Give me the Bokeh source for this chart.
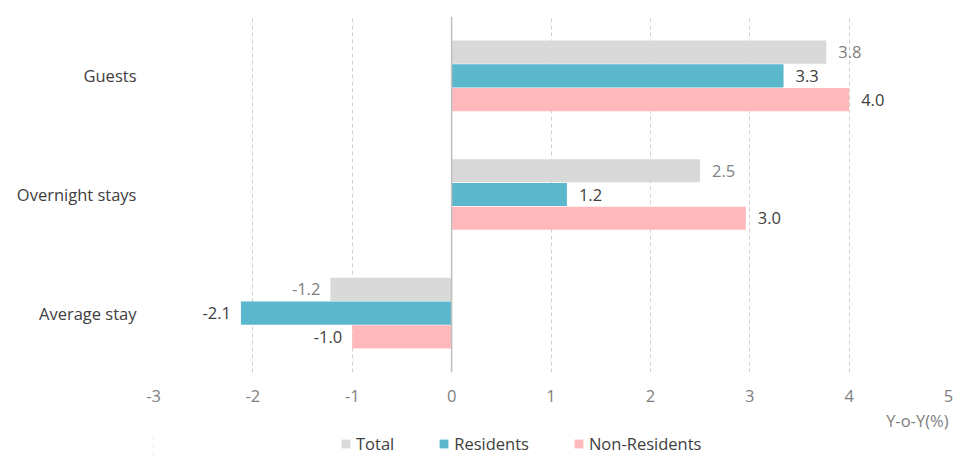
from bokeh.plotting import figure
from bokeh.layouts import column
from bokeh.models import ColumnDataSource, FactorRange, Range1d, Span, Legend, LegendItem, FixedTicker, Title
from bokeh.transform import dodge
from bokeh.core.properties import value
from bokeh.embed import file_html
from bokeh.resources import INLINE

categories = ["Guests", "Overnight stays", "Average stay"]
total = [3.77, 2.5, -1.22]
residents = [3.34, 1.16, -2.12]
non_residents = [4.0, 2.96, -1.0]
series_names = ["Total", "Residents", "Non-Residents"]
x_ticks = [-3, -2, -1, 0, 1, 2, 3, 4, 5]
x_tick_labels = ["-3", "-2", "-1", "0", "1", "2", "3", "4", "5"]
x_title = "Y-o-Y(%)"

colors = ["#d9d9d9", "#5bb7cc", "#ffb9bc"]
label_colors = ["#808080", "#404040", "#404040"]
offsets = [0.2, 0.0, -0.2]
FONT = "Open Sans"
FS = "16.5px"

p = figure(width=958, height=433,
           y_range=FactorRange(factors=list(reversed(categories))),
           x_range=Range1d(-3, 5),
           output_backend="svg", toolbar_location=None,
           min_border_left=153, min_border_right=10, min_border_top=16, min_border_bottom=0)
p.outline_line_color = None

p.ygrid.grid_line_color = None
p.xgrid.grid_line_color = "#d0d0d0"
p.xgrid.grid_line_dash = "4 3"
p.xaxis.ticker = FixedTicker(ticks=x_ticks)
p.xaxis.major_label_overrides = {t: s for t, s in zip(x_ticks, x_tick_labels)}

p.xaxis.axis_line_color = None
p.xaxis.major_tick_line_color = None
p.xaxis.minor_tick_line_color = None
p.xaxis.major_tick_out = 0
p.xaxis.major_label_standoff = 17
p.xaxis.major_label_text_color = "#808080"
p.xaxis.major_label_text_font = FONT
p.xaxis.major_label_text_font_size = FS

p.yaxis.axis_line_color = None
p.yaxis.major_tick_line_color = None
p.yaxis.minor_tick_line_color = None
p.yaxis.major_tick_out = 0
p.yaxis.major_label_standoff = 17
p.yaxis.major_label_text_color = "#404040"
p.yaxis.major_label_text_font = FONT
p.yaxis.major_label_text_font_size = FS

p.add_layout(Span(location=0, dimension="height", line_color="#bfbfbf", line_width=1.5))

# legend strip below the chart (its bars lie outside its own x range, only legend shows)
lg = figure(width=958, height=24,
            y_range=FactorRange(factors=list(reversed(categories))),
            x_range=Range1d(100.2, 100.8),
            output_backend="svg", toolbar_location=None,
            x_axis_location=None, y_axis_location=None,
            min_border_left=153, min_border_right=10, min_border_top=0, min_border_bottom=0)
lg.outline_line_color = None
lg.grid.visible = False
lg.xgrid.visible = False
lg.ygrid.visible = False

items = []
for name, vals, col, lcol, off in zip(series_names, [total, residents, non_residents], colors, label_colors, offsets):
    src = ColumnDataSource(dict(
        cat=categories,
        val=vals,
        lbl=["%.1f" % v for v in vals],
        align=["left" if v >= 0 else "right" for v in vals],
        xoff=[12 if v >= 0 else -10 for v in vals],
    ))
    p.hbar(y=dodge("cat", off, range=p.y_range), right="val", left=0, height=0.195,
           source=src, fill_color=col, line_color=None)
    p.text(x="val", y=dodge("cat", off, range=p.y_range), text="lbl", x_offset="xoff",
           text_align="align", text_baseline="middle", source=src,
           text_color=lcol, text_font=value(FONT), text_font_size=FS)
    r = lg.hbar(y=dodge("cat", off, range=lg.y_range), right="val", left=0, height=0.195,
                source=src, fill_color=col, line_color=None)
    items.append(LegendItem(label=name, renderers=[r]))

xlabel = Title(text=x_title, align="right", text_font=FONT, text_font_style="normal",
               text_font_size=FS, text_color="#808080", offset=0, standoff=4)
p.add_layout(xlabel, "below")

legend = Legend(items=items, orientation="horizontal", location=(187, 2),
                border_line_color=None, background_fill_alpha=0,
                glyph_width=11, glyph_height=11, spacing=44, padding=1, margin=0,
                label_text_font=FONT, label_text_font_size=FS, label_text_color="#404040",
                label_standoff=5, label_height=18)
lg.add_layout(legend, "center")

open("out.html", "w").write(file_html(column(p, lg, spacing=0), INLINE))
